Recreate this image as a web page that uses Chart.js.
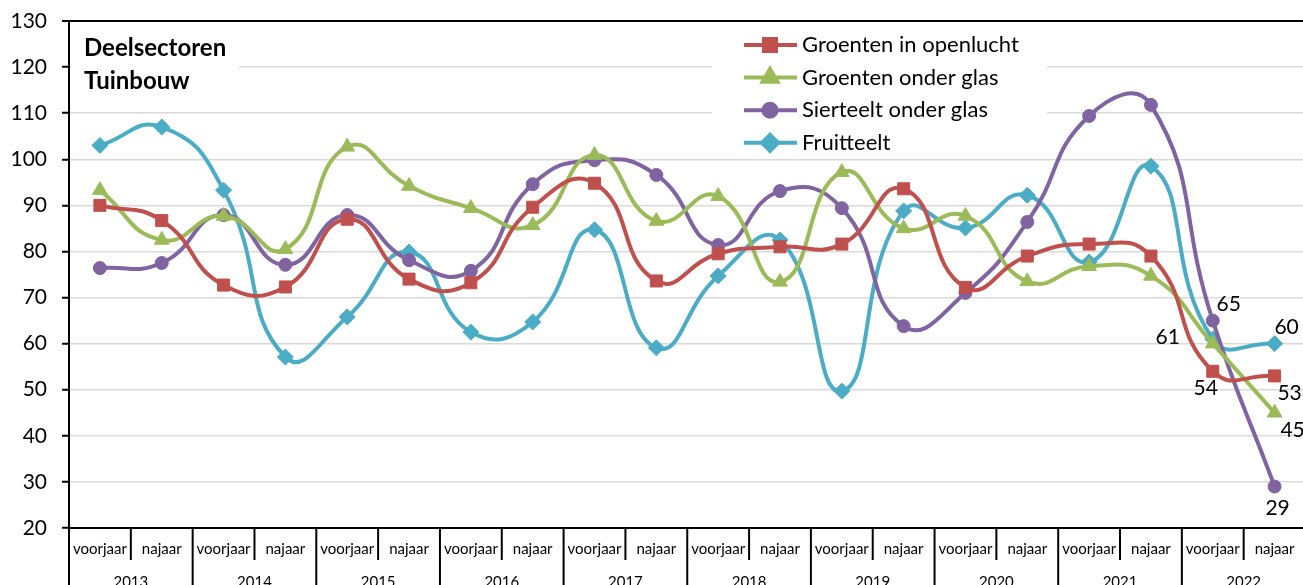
<!DOCTYPE html>
<html>
<head>
<meta charset="utf-8">
<script src="https://cdn.jsdelivr.net/npm/chart.js@4.4.1/dist/chart.umd.min.js"></script>
<style>
html, body { margin: 0; padding: 0; background: #fff; overflow: hidden; }
#wrap { width: 1315px; height: 585px; }
</style>
</head>
<body>
<div id="wrap"><canvas id="chart" width="1315" height="585"></canvas></div>
<script>
const periods = ['voorjaar', 'najaar', 'voorjaar', 'najaar', 'voorjaar', 'najaar', 'voorjaar', 'najaar',
    'voorjaar', 'najaar', 'voorjaar', 'najaar', 'voorjaar', 'najaar', 'voorjaar', 'najaar',
    'voorjaar', 'najaar', 'voorjaar', 'najaar'];
const years = ['2013', '2014', '2015', '2016', '2017', '2018', '2019', '2020', '2021', '2022'];

const groentenOpenlucht = [90, 86.7, 72.7, 72.3, 87, 74, 73.2, 89.6, 94.8, 73.6, 79.5, 81, 81.6, 93.6, 72.2, 79, 81.6, 79, 54, 53];
const groentenGlas = [93.3, 82.5, 87.7, 80.5, 102.7, 94.2, 89.4, 85.7, 100.9, 86.6, 92, 73.4, 97.2, 85, 87.7, 73.5, 76.8, 74.7, 60, 45];
const sierteeltGlas = [76.4, 77.5, 87.9, 77.1, 87.9, 78.1, 75.8, 94.6, 99.8, 96.6, 81.4, 93.1, 89.4, 63.8, 71, 86.4, 109.4, 111.8, 65, 29];
const fruitteelt = [103, 107, 93.3, 57.1, 65.8, 79.9, 62.5, 64.7, 84.7, 59.1, 74.7, 82.5, 49.7, 88.8, 85.1, 92.2, 77.7, 98.5, 61, 60];

const seriesNames = ['Groenten in openlucht', 'Groenten onder glas', 'Sierteelt onder glas', 'Fruitteelt'];
const titleLines = ['Deelsectoren', 'Tuinbouw'];

const FONT = 'Lato, "Open Sans", sans-serif';

function line(label, data, color, pointStyle, radius) {
    return {
        label: label,
        data: data,
        borderColor: color,
        backgroundColor: color,
        borderWidth: 4,
        tension: 0.5,
        pointStyle: pointStyle,
        pointRadius: radius,
        pointHoverRadius: radius,
        pointBorderWidth: 1,
        pointBorderColor: color,
        pointBackgroundColor: color
    };
}

// value labels near the last points: [dataset, index, dx, dy]
const endLabels = [
    [2, 18, 16, -16],
    [3, 18, -45, -2],
    [0, 18, -7, 17],
    [3, 19, 12, -16],
    [0, 19, 15, 17],
    [1, 19, 18, 17],
    [2, 19, 3, 22]
];

const decorations = {
    id: 'decorations',
    beforeDatasetsDraw(chart) {
        const ctx = chart.ctx;
        const area = chart.chartArea;
        ctx.save();
        // title box
        ctx.fillStyle = '#fff';
        ctx.fillRect(area.left + 2, 28, 168, 74);
        ctx.fillStyle = '#000';
        ctx.font = 'bold 24px ' + FONT;
        ctx.textBaseline = 'middle';
        ctx.textAlign = 'left';
        ctx.fillText(titleLines[0], 84, 48);
        ctx.fillText(titleLines[1], 84, 81);

        // legend
        ctx.fillStyle = '#fff';
        ctx.fillRect(712, 24, 335, 132);
        chart.data.datasets.forEach((ds, i) => {
            const y = 45 + i * 32.6;
            ctx.strokeStyle = ds.borderColor;
            ctx.lineWidth = ds.borderWidth;
            ctx.beginPath();
            ctx.moveTo(744, y);
            ctx.lineTo(797, y);
            ctx.stroke();
            ctx.fillStyle = ds.backgroundColor;
            Chart.helpers.drawPoint(ctx, {
                pointStyle: ds.pointStyle, radius: ds.pointRadius, borderWidth: 1, rotation: 0
            }, 770, y);
            ctx.fillStyle = '#000';
            ctx.font = '22px ' + FONT;
            ctx.fillText(ds.label, 802, y);
        });
        ctx.restore();
    },
    afterDraw(chart) {
        const ctx = chart.ctx;
        const area = chart.chartArea;
        const x = chart.scales.x;
        ctx.save();
        ctx.strokeStyle = '#000';
        ctx.lineWidth = 2;
        const n = periods.length;
        for (let i = 0; i <= n; i++) {
            let bx;
            if (i === 0) bx = area.left;
            else if (i === n) bx = area.right;
            else bx = (x.getPixelForValue(i - 1) + x.getPixelForValue(i)) / 2;
            const bottom = (i % 2 === 0) ? chart.height : area.bottom + 32;
            ctx.beginPath();
            ctx.moveTo(bx, area.bottom);
            ctx.lineTo(bx, bottom);
            ctx.stroke();
        }
        ctx.fillStyle = '#000';
        ctx.font = '15px ' + FONT;
        ctx.textAlign = 'center';
        ctx.textBaseline = 'middle';
        years.forEach((yr, j) => {
            const cx = (x.getPixelForValue(2 * j) + x.getPixelForValue(2 * j + 1)) / 2;
            ctx.fillText(yr, cx, 582);
        });

        // end labels
        ctx.font = '21px ' + FONT;
        endLabels.forEach(([d, idx, dx, dy]) => {
            const pt = chart.getDatasetMeta(d).data[idx];
            const v = chart.data.datasets[d].data[idx];
            ctx.fillText(String(Math.round(v)), pt.x + dx, pt.y + dy);
        });
        ctx.restore();
    }
};

const ctx = document.getElementById('chart').getContext('2d');
const chart = new Chart(ctx, {
    type: 'line',
    data: {
        labels: periods,
        datasets: [
            line(seriesNames[0], groentenOpenlucht, '#C0504D', 'rect', 8.5),
            line(seriesNames[1], groentenGlas, '#9BBB59', 'triangle', 8.5),
            line(seriesNames[2], sierteeltGlas, '#8064A2', 'circle', 6.5),
            line(seriesNames[3], fruitteelt, '#4BACC6', 'rectRot', 8)
        ]
    },
    options: {
        responsive: false,
        animation: false,
        devicePixelRatio: 1,
        layout: { padding: { left: 0, top: 21, right: 2, bottom: 0 } },
        plugins: {
            legend: { display: false },
            tooltip: { enabled: false }
        },
        scales: {
            x: {
                offset: true,
                grid: { display: false, drawTicks: false },
                border: { color: '#000', width: 2 },
                ticks: {
                    color: '#000',
                    font: { family: FONT, size: 15 },
                    padding: 12,
                    maxRotation: 0,
                    autoSkip: false
                },
                afterFit(scale) { scale.height = 57; }
            },
            y: {
                min: 20,
                max: 130,
                ticks: {
                    stepSize: 10,
                    color: '#000',
                    font: { family: FONT, size: 21 },
                    padding: 15
                },
                grid: {
                    color: c => (c.tick && (c.tick.value === 130 || c.tick.value === 20)) ? '#000' : '#d9d9d9',
                    lineWidth: c => (c.tick && c.tick.value === 130) ? 2 : 1.5,
                    tickColor: '#000',
                    tickLength: 7,
                    tickWidth: 2
                },
                border: { color: '#000', width: 2 },
                afterFit(scale) {
                    scale.width = 69;
                    scale.paddingTop = 0;
                    scale.paddingBottom = 0;
                }
            }
        }
    },
    plugins: [decorations]
});
</script>
</body>
</html>
